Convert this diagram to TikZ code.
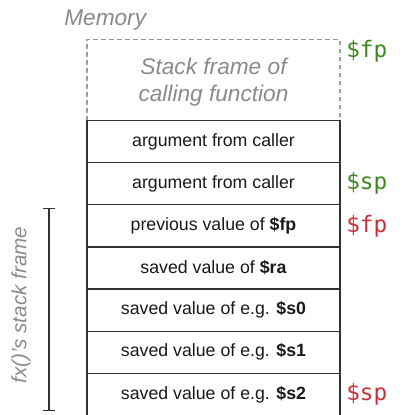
\documentclass[tikz,border=0pt]{standalone}
\usepackage{fontspec}
\setmainfont{Liberation Sans}
\setmonofont{DejaVu Sans Mono}
\usetikzlibrary{positioning,arrows.meta}
\definecolor{fpgreen}{RGB}{62,134,30}
\definecolor{fpred}{RGB}{200,46,58}
\definecolor{memgray}{RGB}{138,138,138}
\begin{document}
\begin{tikzpicture}[x=0.75pt,y=0.75pt,
    row/.style={draw=black!80,line width=1pt,outer sep=0pt,inner sep=0pt,
      minimum width=189.75pt,minimum height=31.6pt,text=black!90,
      font=\fontsize{13.3}{16}\selectfont},
    note/.style={text=memgray,font=\itshape\fontsize{17}{20.5}\selectfont},
    ptr/.style={font=\ttfamily\fontsize{17}{20}\selectfont,inner sep=0pt,anchor=west}]
  \useasboundingbox (0,0) rectangle (416,414);
  % memory
  \node[note,anchor=west,inner sep=0pt] (mem) at (64,394) {Memory};
  % frame of caller
  \node[row,note,draw=memgray!85,dash pattern=on 3.5pt off 2.5pt,
    minimum height=60.75pt,align=center,text depth=-4pt] (caller) at (213.5,334)
    {Stack frame of\\calling function};
  % stack rows
  \node[row,below=0pt of caller] (r1) {argument from caller};
  \node[row,below=0pt of r1] (r2) {argument from caller};
  \node[row,below=0pt of r2] (r3) {previous value of \textbf{\$fp}};
  \node[row,below=0pt of r3] (r4) {saved value of \textbf{\$ra}};
  \node[row,below=0pt of r4] (r5) {saved value of e.g. \textbf{\$s0}};
  \node[row,below=0pt of r5] (r6) {saved value of e.g. \textbf{\$s1}};
  \node[row,below=0pt of r6] (r7) {saved value of e.g. \textbf{\$s2}};
  % registers
  \node[ptr,text=fpgreen] (fpold) at (346,363) {\$fp};
  \node[ptr,text=fpgreen,right=4.5pt of r2] (spold) {\$sp};
  \node[ptr,text=fpred,right=4.5pt of r3] (fpnew) {\$fp};
  \node[ptr,text=fpred,right=4.5pt of r7] (spnew) {\$sp};
  % frame bracket
  \coordinate (ftop) at (49,206);
  \coordinate (fbot) at (49,3);
  \draw[black!80,line width=1pt,{Bar[width=8.5pt]}-{Bar[width=8.5pt]}] (ftop) -- (fbot);
  \node[note,rotate=90,font=\itshape\fontsize{15.5}{18}\selectfont] (flabel) at (21,109) {fx()'s stack frame};
\end{tikzpicture}
\end{document}
